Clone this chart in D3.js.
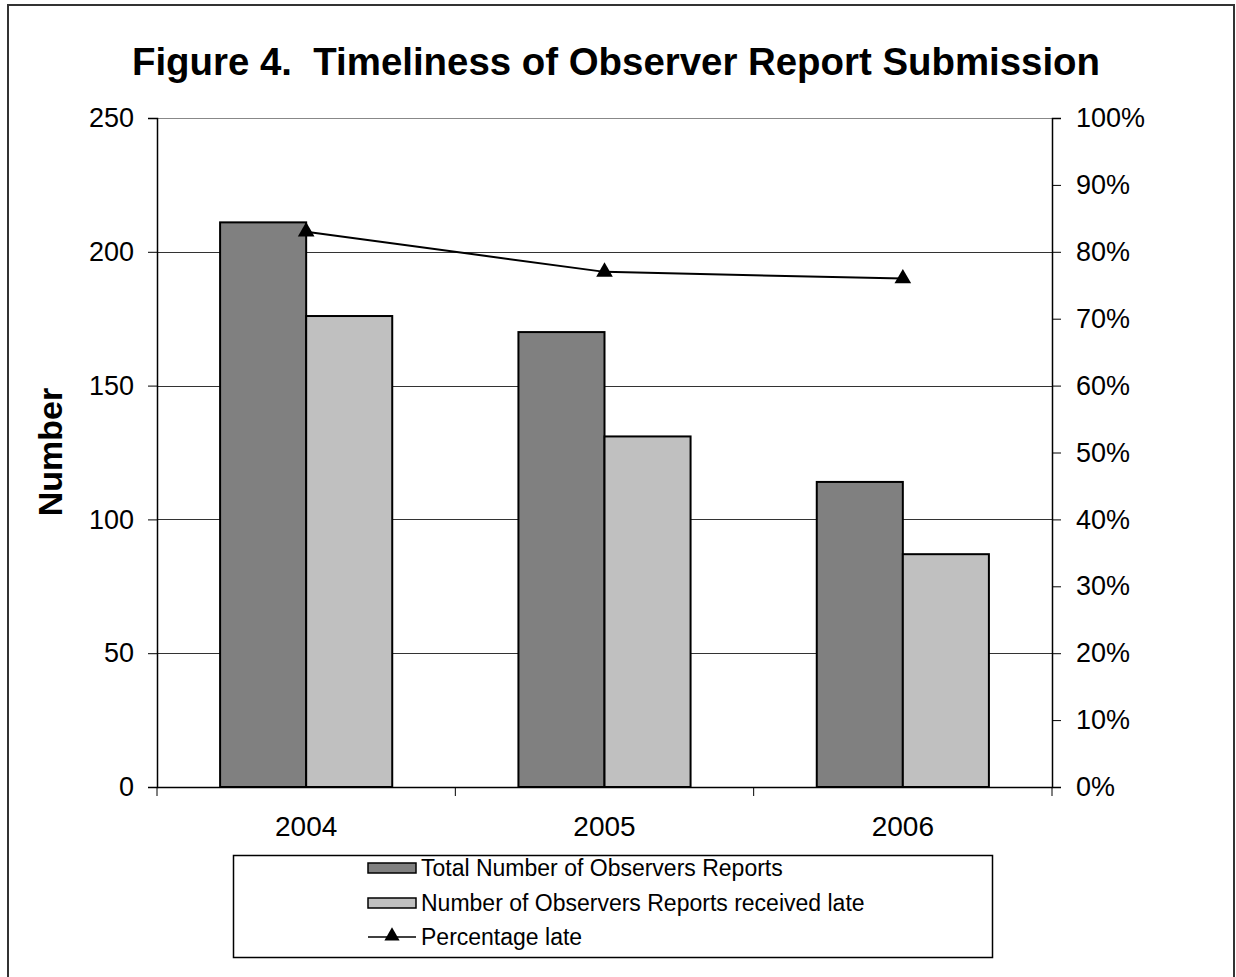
<!DOCTYPE html>
<html lang="en">
<head>
<meta charset="utf-8">
<title>Timeliness of Observer Report Submission</title>
<script src="https://d3js.org/d3.v7.min.js"></script>
<style>
  body { margin: 0; background: #fff; }
  text { font-family: "Liberation Sans", Arial, sans-serif; fill: #000; white-space: pre; }
  .bar { stroke: #000; stroke-width: 2px; }
</style>
</head>
<body>
<script>
// data
var years = ["2004", "2005", "2006"];
var totalReports = [211, 170, 114];
var lateReports = [176, 131, 87];
var pctLate = [83, 77, 76];
var leftTicks = [0, 50, 100, 150, 200, 250];
var rightTicks = [0, 10, 20, 30, 40, 50, 60, 70, 80, 90, 100];
var seriesNames = ["Total Number of Observers Reports",
                   "Number of Observers Reports received late",
                   "Percentage late"];

var w = 1236, h = 977;
var margin = {top: 118, left: 157, right: 184, bottom: 190};
var innerW = w - margin.left - margin.right;   // 895
var innerH = h - margin.top - margin.bottom;   // 669

var svg = d3.select("body").append("svg")
  .attr("width", w)
  .attr("height", h);

// outer chart border
svg.append("rect")
  .attr("x", 8).attr("y", 5)
  .attr("width", 1226).attr("height", 1000)
  .attr("fill", "none")
  .attr("stroke", "#333")
  .attr("stroke-width", 2);

svg.append("text")
  .attr("x", 616).attr("y", 75)
  .attr("text-anchor", "middle")
  .attr("font-size", "38px")
  .attr("font-weight", "bold")
  .attr("textLength", 968)
  .attr("lengthAdjust", "spacingAndGlyphs")
  .text("Figure 4.  Timeliness of Observer Report Submission");

var g = svg.append("g")
  .attr("transform", `translate(${margin.left},${margin.top})`);

// scales
var x0 = d3.scaleBand().domain(years).range([0, innerW]).paddingInner(0.423).paddingOuter(0.2115);
var x1 = d3.scaleBand().domain([0, 1]).range([0, x0.bandwidth()]);
var xCat = d3.scaleBand().domain(years).range([0, innerW]);
var yL = d3.scaleLinear().domain([0, 250]).range([innerH, 0]);
var yR = d3.scaleLinear().domain([0, 100]).range([innerH, 0]);

// gridlines
g.append("g")
  .selectAll("line")
  .data(leftTicks.filter(d => d > 0))
  .join("line")
  .attr("x1", 0).attr("x2", innerW)
  .attr("y1", d => Math.round(yL(d)) + 0.5)
  .attr("y2", d => Math.round(yL(d)) + 0.5)
  .attr("stroke-width", 1)
  .attr("stroke", d => d == 250 ? "#888" : "#333");

// bars
var bars = g.selectAll(".yr")
  .data(years)
  .join("g")
  .attr("class", "yr")
  .attr("transform", d => `translate(${x0(d)},0)`);

bars.append("rect")
  .attr("class", "bar")
  .attr("x", x1(0))
  .attr("width", x1.bandwidth())
  .attr("y", (d, i) => yL(totalReports[i]))
  .attr("height", (d, i) => innerH - yL(totalReports[i]))
  .attr("fill", "#808080");

bars.append("rect")
  .attr("class", "bar")
  .attr("x", x1(1))
  .attr("width", x1.bandwidth())
  .attr("y", (d, i) => yL(lateReports[i]))
  .attr("height", (d, i) => innerH - yL(lateReports[i]))
  .attr("fill", "#c0c0c0");

// axes
var leftAxis = d3.axisLeft(yL).tickValues(leftTicks).tickSize(9).tickPadding(14);
var gl = g.append("g").call(leftAxis);
gl.selectAll("text").attr("font-size", "27px").attr("font-family", "Liberation Sans, Arial, sans-serif");

var rightAxis = d3.axisRight(yR).tickValues(rightTicks).tickSize(9).tickPadding(15)
  .tickFormat(d => d + "%");
var gr = g.append("g").attr("transform", `translate(${innerW},0)`).call(rightAxis);
gr.selectAll("text").attr("font-size", "27px").attr("font-family", "Liberation Sans, Arial, sans-serif");

var bottomAxis = d3.axisBottom(xCat).tickSize(0).tickPadding(29);
var gb = g.append("g").attr("transform", `translate(0,${innerH})`).call(bottomAxis);
gb.selectAll("text").attr("font-size", "28px").attr("font-family", "Liberation Sans, Arial, sans-serif");
// category boundary ticks
gb.selectAll(".cat-tick")
  .data([0, 1, 2, 3])
  .join("line")
  .attr("x1", i => i * xCat.step()).attr("x2", i => i * xCat.step())
  .attr("y1", 0).attr("y2", 9)
  .attr("stroke", "#000");

[gl, gr, gb].forEach(a => {
  a.select(".domain").attr("stroke", "#000").attr("stroke-width", 1.5);
  a.selectAll(".tick line").attr("stroke", "#000");
});

// percentage line
var pts = years.map((d, i) => [xCat(d) + xCat.bandwidth() / 2, yR(pctLate[i])]);
g.append("path")
  .datum(pts)
  .attr("fill", "none")
  .attr("stroke", "#000")
  .attr("stroke-width", 2)
  .attr("d", d3.line());

var tri = d3.symbol().type(d3.symbolTriangle).size(120);
g.selectAll(".mk")
  .data(pts)
  .join("path")
  .attr("transform", d => `translate(${d[0]},${d[1]})`)
  .attr("d", tri)
  .attr("fill", "#000");

// y title
svg.append("text")
  .attr("transform", "translate(62,452) rotate(-90)")
  .attr("text-anchor", "middle")
  .attr("font-size", "34px")
  .attr("font-weight", "bold")
  .text("Number");

// legend
var lg = svg.append("g");
lg.append("rect")
  .attr("x", 233.5).attr("y", 855.5)
  .attr("width", 759).attr("height", 102)
  .attr("fill", "#fff")
  .attr("stroke", "#000")
  .attr("stroke-width", 1.5);

var rowY = [868, 903, 937];
var fills = ["#808080", "#c0c0c0"];
[0, 1].forEach(i => {
  lg.append("rect")
    .attr("x", 368).attr("y", rowY[i] - 5)
    .attr("width", 48).attr("height", 10)
    .attr("fill", fills[i])
    .attr("stroke", "#000")
    .attr("stroke-width", 1.5);
});
lg.append("line")
  .attr("x1", 368).attr("x2", 416)
  .attr("y1", rowY[2]).attr("y2", rowY[2])
  .attr("stroke", "#000").attr("stroke-width", 1.5);
lg.append("path")
  .attr("transform", `translate(392,${rowY[2] - 1})`)
  .attr("d", d3.symbol().type(d3.symbolTriangle).size(100))
  .attr("fill", "#000");

lg.selectAll(".lt")
  .data(seriesNames)
  .join("text")
  .attr("x", 421)
  .attr("y", (d, i) => rowY[i] + 8)
  .attr("font-size", "23px")
  .text(d => d);
</script>
</body>
</html>
